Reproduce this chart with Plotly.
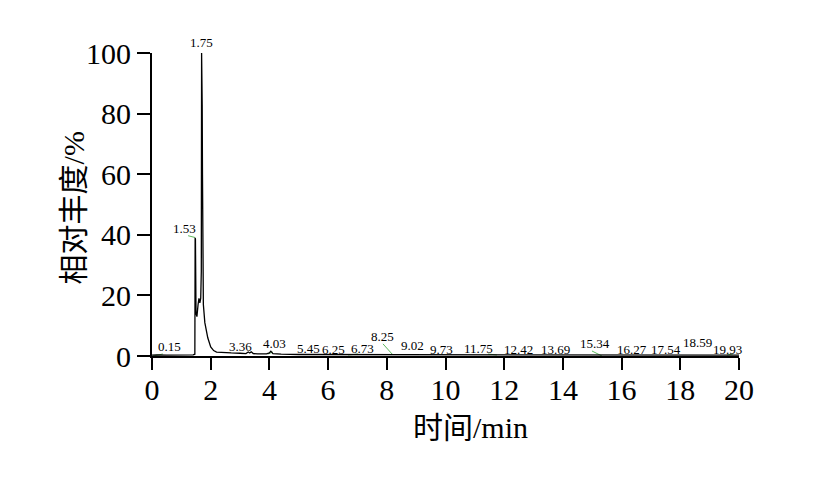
import plotly.graph_objects as go

# Chromatogram (time in min, relative abundance in %)
time = [0.0, 0.15, 0.5, 1.0, 1.40, 1.46, 1.47, 1.48, 1.50, 1.53, 1.57, 1.60, 1.63, 1.66, 1.68, 1.69,
        1.70, 1.71, 1.72, 1.73, 1.75, 1.80, 1.90, 2.00, 2.10, 2.20, 2.40, 2.70, 3.00, 3.20, 3.28,
        3.33, 3.38, 3.45, 3.60, 3.90, 4.00, 4.05, 4.12, 4.40, 5.00, 5.45, 6.00, 6.25, 6.73, 7.20,
        8.00, 8.25, 8.80, 9.02, 9.73, 10.50, 11.00, 11.75, 12.42, 13.00, 13.69, 14.50, 15.34,
        16.27, 17.00, 17.54, 18.20, 18.59, 19.20, 19.93, 20.0]
abundance = [0.3, 0.4, 0.3, 0.3, 0.4, 0.6, 39.0, 38.5, 14.0, 13.0, 17.0, 19.0, 17.5, 19.0, 28.0, 100.0,
             84.0, 83.0, 60.0, 30.0, 17.0, 11.0, 6.0, 3.0, 1.8, 1.3, 1.1, 1.0, 0.9, 0.8, 1.3,
             1.0, 1.4, 0.8, 0.7, 0.7, 1.0, 1.6, 0.8, 0.6, 0.5, 0.5, 0.4, 0.4, 0.4, 0.4,
             0.4, 0.5, 0.4, 0.5, 0.4, 0.3, 0.3, 0.3, 0.3, 0.3, 0.3, 0.3, 0.4,
             0.3, 0.3, 0.3, 0.3, 0.3, 0.3, 0.3, 0.3]

# Peak labels and their placement (x in minutes, y in % abundance)
peak_labels = ["1.75", "1.53", "0.15", "3.36", "4.03", "5.45", "6.25", "6.73", "8.25", "9.02",
               "9.73", "11.75", "12.42", "13.69", "15.34", "16.27", "17.54", "18.59", "19.93"]
label_x = [1.70, 1.12, 0.58, 3.03, 4.19, 5.34, 6.17, 7.16, 7.84, 8.86,
           9.85, 11.11, 12.50, 13.76, 15.09, 16.35, 17.51, 18.60, 19.62]
label_y = [103.5, 42.0, 3.0, 3.3, 4.0, 2.6, 2.3, 2.6, 6.6, 3.6,
           2.3, 2.6, 2.3, 2.3, 4.0, 2.3, 2.3, 4.6, 2.3]

# Small green peak-marker ticks
marker_x0 = [0.03, 1.23, 3.95, 6.68, 7.87, 11.45, 14.99, 19.59]
marker_y0 = [0.0, 39.7, 0.66, 0.33, 4.0, 0.66, 1.66, 0.33]
marker_x1 = [0.37, 1.47, 4.12, 7.02, 8.21, 11.75, 15.33, 19.79]
marker_y1 = [0.66, 39.1, 1.3, 0.66, 0.33, 0.33, 0.0, 0.66]

x_ticks = [0, 2, 4, 6, 8, 10, 12, 14, 16, 18, 20]
y_ticks = [0, 20, 40, 60, 80, 100]
Y_MAX = 100
x_title = "时间/min"
y_title = "相对丰度/%"

SERIF = "Liberation Serif, Times New Roman, Noto Sans CJK SC, serif"

fig = go.Figure()
for x0, y0, x1, y1 in zip(marker_x0, marker_y0, marker_x1, marker_y1):
    fig.add_trace(go.Scatter(x=[x0, x1], y=[y0, y1], mode="lines",
                             line=dict(color="#5cb85c", width=1), showlegend=False,
                             hoverinfo="skip", cliponaxis=False))
fig.add_trace(go.Scatter(x=time, y=abundance, mode="lines",
                         line=dict(color="black", width=1.3), showlegend=False,
                         cliponaxis=False))

for t, x, y in zip(peak_labels, label_x, label_y):
    fig.add_annotation(x=x, y=y / Y_MAX, text=t, showarrow=False, xref="x", yref="paper",
                       xanchor="center", yanchor="middle",
                       font=dict(family=SERIF, size=13, color="black"))

# Axis titles placed as annotations (x title is right of centre in the original)
fig.add_annotation(x=0.5426, y=-0.235, xref="paper", yref="paper", text=x_title,
                   showarrow=False, xanchor="center", yanchor="middle",
                   font=dict(family=SERIF, size=30, color="black"))
fig.add_annotation(x=-0.133, y=0.49, xref="paper", yref="paper", text=y_title,
                   showarrow=False, xanchor="center", yanchor="middle", textangle=-90,
                   font=dict(family=SERIF, size=30, color="black"))

fig.update_layout(
    width=820, height=495,
    margin=dict(l=144, r=89, t=45, b=147, autoexpand=False),
    paper_bgcolor="white", plot_bgcolor="white",
    font=dict(family=SERIF, color="black"),
)
fig.update_xaxes(range=[0, 20], tickvals=x_ticks, ticks="outside", ticklen=12, tickwidth=2,
                 tickcolor="black", showline=True, linecolor="black", linewidth=2,
                 showgrid=False, zeroline=False, tickfont=dict(size=30, family=SERIF),
                 ticklabelstandoff=-6, automargin=False)
fig.update_yaxes(range=[0, Y_MAX], tickvals=y_ticks, ticks="outside", ticklen=13, tickwidth=2,
                 tickcolor="black", showline=True, linecolor="black", linewidth=2,
                 showgrid=False, zeroline=False, tickfont=dict(size=30, family=SERIF),
                 ticklabelstandoff=0, automargin=False)

fig.write_html("out.html")
